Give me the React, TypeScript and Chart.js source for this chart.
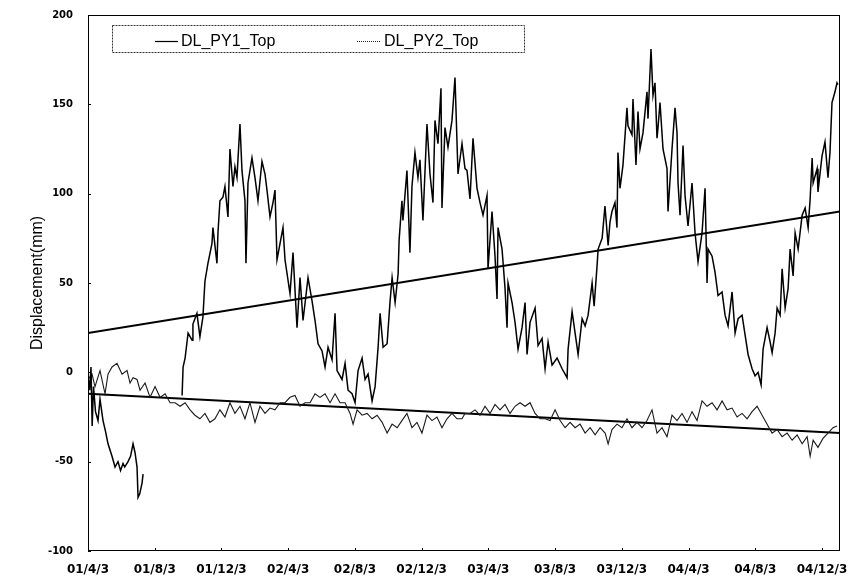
import React, { useEffect, useRef } from 'react';
import { Chart, registerables } from 'chart.js';

Chart.register(...registerables);

// x values: months elapsed since 2001/4/3
const xTickMonths = [0, 4, 8, 12, 16, 20, 24, 28, 32, 36, 40, 44];
const xTickLabels = ['01/4/3', '01/8/3', '01/12/3', '02/4/3', '02/8/3', '02/12/3', '03/4/3', '03/8/3', '03/12/3', '04/4/3', '04/8/3', '04/12/3'];
const xMax = 45.08;
const yTicks = [-100, -50, 0, 50, 100, 150, 200];
const seriesNames = ['DL_PY1_Top', 'DL_PY2_Top'];

const py1Months = [
  0, 0.1, 0.18, 0.25, 0.33, 0.45, 0.6, 0.72, 0.9, 1.05, 1.2, 1.44, 1.62, 1.8, 1.95, 2.1, 2.2, 2.4, 2.55, 2.7, 2.82, 2.94, 3.0, 3.1, 3.24, 3.3,
  4.5,
  5.64, 5.70, 5.82, 6.00, 6.24, 6.29, 6.53, 6.71, 6.89, 7.01, 7.19, 7.43, 7.49, 7.73, 7.79, 7.91, 8.09, 8.21, 8.39, 8.51, 8.69, 8.81, 8.93,
  9.11, 9.23, 9.41, 9.47, 9.59, 9.83, 10.01, 10.19, 10.43, 10.61, 10.73, 10.91, 11.09, 11.21, 11.33, 11.51, 11.69, 11.81, 12.11, 12.29,
  12.53, 12.71, 12.89, 13.19, 13.43, 13.61, 13.79, 14.03, 14.21, 14.39, 14.63, 14.81, 14.93, 15.23, 15.41, 15.59, 15.83, 16.01, 16.19,
  16.43, 16.61, 16.79, 17.03, 17.21, 17.39, 17.51, 17.69, 17.93, 18.11, 18.23, 18.41, 18.59, 18.65, 18.82, 18.88, 19.12, 19.30, 19.42,
  19.60, 19.78, 19.90, 20.08, 20.32, 20.50, 20.68, 20.80, 20.98, 21.16, 21.22, 21.40, 21.58, 21.82, 22.00, 22.18, 22.42, 22.60, 22.72,
  22.90, 23.08, 23.32, 23.50, 23.68, 23.92, 23.98, 24.22, 24.40, 24.52, 24.58, 24.82, 25.00, 25.12, 25.18, 25.42, 25.60, 25.78, 26.02,
  26.20, 26.32, 26.50, 26.80, 26.98, 27.22, 27.40, 27.58, 27.82, 28.12, 28.42, 28.72, 28.78, 29.02, 29.20, 29.38, 29.62, 29.80, 29.98,
  30.22, 30.34, 30.52, 30.58, 30.82, 30.99, 31.18, 31.29, 31.41, 31.59, 31.71, 31.77, 31.89, 32.07, 32.31, 32.37, 32.61, 32.67, 32.85,
  32.97, 33.09, 33.27, 33.51, 33.57, 33.75, 33.87, 33.99, 34.11, 34.17, 34.29, 34.47, 34.71, 34.77, 35.01, 35.19, 35.31, 35.37, 35.49,
  35.67, 35.79, 35.97, 36.21, 36.39, 36.57, 36.81, 36.99, 37.11, 37.17, 37.41, 37.59, 37.77, 38.01, 38.19, 38.37, 38.61, 38.79, 38.97,
  39.21, 39.39, 39.57, 39.81, 39.99, 40.17, 40.35, 40.47, 40.71, 40.89, 41.01, 41.19, 41.31, 41.49, 41.61, 41.79, 41.97, 42.09, 42.27,
  42.39, 42.57, 42.81, 42.99, 43.17, 43.29, 43.41, 43.47, 43.71, 43.76, 44.00, 44.18, 44.36, 44.48, 44.60, 44.78, 44.90, 44.96,
];
const py1Values = [
  -2, -10, 3, -30, -8, -22, -27, -15, -27, -33, -40, -47, -53, -50, -55, -51, -53, -50, -47, -40, -45, -53, -70, -68, -62, -57,
  null,
  -13, 3, 8, 22, 18, 27, 33, 20, 31, 51, 61, 72, 81, 61, 78, 96, 98, 104, 87, 125, 104, 115, 109,
  139, 113, 96, 61, 106, 120, 109, 96, 118, 111, 102, 87, 95, 102, 63, 72, 81, 63, 44, 67,
  25, 53, 29, 53, 40, 29, 16, 12, 3, 14, 7, 33, 1, -4, 5, -10, -12, -17, 1,
  8, -4, -1, -16, -8, 14, 33, 14, 16, 40, 53, 39, 55, 74, 96, 85, 113, 67, 104,
  123, 109, 119, 85, 139, 111, 95, 141, 128, 159, 92, 137, 126, 141, 165, 111, 128, 114, 113,
  97, 131, 103, 95, 88, 99, 58, 90, 65, 41, 81, 69, 47, 25, 50, 39, 28, 13, 25,
  39, 10, 28, 36, 15, 19, 2, 17, 4, 8, 2, -3, 13, 34, 22, 10, 30, 26, 32,
  50, 37, 60, 69, 75, 93, 71, 84, 90, 95, 81, 123, 103, 116, 148, 138, 133, 153, 116,
  146, 125, 134, 157, 142, 181, 155, 162, 131, 137, 151, 125, 114, 90, 125, 148, 134, 106, 88,
  127, 99, 82, 106, 78, 62, 78, 103, 50, 69, 65, 56, 43, 45, 32, 26, 45, 22, 30,
  32, 21, 10, 2, -2, 0, -7, 13, 25, 17, 11, 22, 36, 32, 58, 36, 47, 69, 54,
  78, 69, 88, 92, 81, 97, 120, 106, 114, 101, 121, 129, 109, 123, 151, 157, 162, 161,
];

const py2Months = [
  0, 0.24, 0.42, 0.72, 1.02, 1.20, 1.44, 1.74, 2.04, 2.34, 2.52, 2.70, 2.94, 3.12, 3.42, 3.72, 4.02, 4.32, 4.62, 4.92,
  5.22, 5.52, 5.82, 6.12, 6.41, 6.71, 7.01, 7.31, 7.61, 7.91, 8.21, 8.51, 8.81, 9.11, 9.41, 9.71, 10.01, 10.31, 10.61, 10.91,
  11.21, 11.51, 11.81, 12.11, 12.41, 12.71, 13.01, 13.31, 13.61, 13.91, 14.21, 14.51, 14.81, 15.11, 15.41, 15.71, 15.89, 16.13, 16.43, 16.73,
  17.03, 17.33, 17.63, 17.93, 18.23, 18.53, 18.82, 19.12, 19.42, 19.72, 20.02, 20.32, 20.62, 20.92, 21.22, 21.52, 21.82, 22.12, 22.42, 22.60,
  22.90, 23.20, 23.50, 23.80, 24.10, 24.40, 24.70, 25.00, 25.30, 25.60, 25.90, 26.20, 26.50, 26.80, 27.10, 27.40, 27.70, 28.00, 28.30, 28.60,
  28.90, 29.20, 29.50, 29.80, 30.10, 30.40, 30.70, 31.00, 31.18, 31.41, 31.71, 32.01, 32.31, 32.61, 32.91, 33.21, 33.51, 33.81, 34.11, 34.41,
  34.71, 35.01, 35.31, 35.61, 35.91, 36.21, 36.51, 36.81, 37.11, 37.41, 37.71, 38.01, 38.31, 38.61, 38.91, 39.21, 39.51, 39.81, 40.11, 40.41,
  40.71, 41.01, 41.31, 41.61, 41.91, 42.21, 42.51, 42.81, 43.11, 43.29, 43.47, 43.76, 44.06, 44.36, 44.66, 44.90,
];
const py2Values = [
  -4, -1, -8, 1, -12, -1, 3, 5, -1, 1, -6, -3, -4, -10, -6, -14, -8, -14, -12, -17,
  -17, -19, -17, -21, -24, -26, -23, -28, -26, -21, -25, -17, -23, -19, -26, -17, -28, -19, -23, -20,
  -21, -17, -17, -14, -13, -19, -17, -17, -12, -14, -12, -17, -12, -17, -17, -23, -29, -21, -24, -23,
  -26, -24, -28, -34, -29, -31, -27, -23, -31, -28, -34, -24, -27, -25, -31, -26, -23, -26, -26, -23,
  -23, -21, -24, -19, -23, -18, -21, -18, -23, -19, -17, -19, -17, -23, -26, -26, -27, -21, -27, -31,
  -28, -31, -29, -34, -31, -35, -31, -34, -40, -32, -29, -31, -26, -31, -28, -31, -27, -21, -34, -31,
  -36, -24, -27, -23, -28, -22, -27, -16, -19, -17, -21, -16, -21, -20, -25, -23, -26, -22, -19, -24,
  -29, -34, -32, -36, -34, -38, -35, -40, -36, -47, -38, -42, -37, -34, -31, -30,
];

const trendMonths = [0, 45.08];
const py1Trend = [22, 90];
const py2Trend = [-12, -34];

const toPoints = (xs: number[], ys: (number | null)[]) => xs.map((x, i) => ({ x, y: ys[i] }));

const framePlugin = {
  id: 'frameAndLegend',
  afterDraw(chart: any) {
    const { ctx, chartArea: a, scales } = chart;
    ctx.save();
    ctx.strokeStyle = '#000';
    ctx.lineWidth = 1;
    ctx.setLineDash([]);
    ctx.strokeRect(a.left + 0.5, a.top + 0.5, a.right - a.left - 1, a.bottom - a.top - 1);
    ctx.beginPath();
    xTickMonths.forEach((m) => {
      const x = Math.round(scales.x.getPixelForValue(m)) + 0.5;
      ctx.moveTo(x, a.bottom);
      ctx.lineTo(x, a.bottom - 3);
    });
    yTicks.forEach((v) => {
      const y = Math.round(scales.y.getPixelForValue(v)) + 0.5;
      ctx.moveTo(a.left, y);
      ctx.lineTo(a.left + 3, y);
    });
    ctx.stroke();

    // legend box
    const lx = a.left + 24;
    const ly = a.top + 10;
    const lw = 412;
    const lh = 27;
    ctx.fillStyle = '#fff';
    ctx.fillRect(lx, ly, lw, lh);
    ctx.setLineDash([2, 1]);
    ctx.strokeStyle = '#333';
    ctx.strokeRect(lx + 0.5, ly + 0.5, lw, lh);
    const cy = ly + lh / 2 + 3;
    ctx.font = '16px "Liberation Sans", Arial, sans-serif';
    ctx.textBaseline = 'middle';
    ctx.textAlign = 'left';
    ctx.fillStyle = '#000';
    // item 1
    ctx.setLineDash([]);
    ctx.strokeStyle = '#000';
    ctx.lineWidth = 1.2;
    ctx.beginPath();
    ctx.moveTo(lx + 43, cy);
    ctx.lineTo(lx + 66, cy);
    ctx.stroke();
    ctx.fillText(seriesNames[0], lx + 69, cy);
    // item 2
    ctx.setLineDash([1, 1]);
    ctx.strokeStyle = '#222';
    ctx.beginPath();
    ctx.moveTo(lx + 245, cy);
    ctx.lineTo(lx + 268, cy);
    ctx.stroke();
    ctx.fillText(seriesNames[1], lx + 272, cy);
    ctx.restore();
  },
};

export default function App() {
  const canvasRef = useRef<HTMLCanvasElement | null>(null);

  useEffect(() => {
    if (!canvasRef.current) return;
    const chart = new Chart(canvasRef.current, {
      type: 'line',
      data: {
        datasets: [
          {
            label: seriesNames[0],
            data: toPoints(py1Months, py1Values),
            borderColor: '#000',
            borderWidth: 1.5,
            pointRadius: 0,
            spanGaps: false,
            tension: 0,
          },
          {
            label: seriesNames[1],
            data: toPoints(py2Months, py2Values),
            borderColor: '#1a1a1a',
            borderWidth: 1.1,
            pointRadius: 0,
            tension: 0,
          },
          {
            label: 'trend1',
            data: toPoints(trendMonths, py1Trend),
            borderColor: '#000',
            borderWidth: 2,
            pointRadius: 0,
          },
          {
            label: 'trend2',
            data: toPoints(trendMonths, py2Trend),
            borderColor: '#000',
            borderWidth: 2,
            pointRadius: 0,
          },
        ],
      },
      options: {
        animation: false,
        responsive: true,
        maintainAspectRatio: false,
        layout: { padding: { left: 0, right: 11, top: 15, bottom: 0 } },
        plugins: {
          legend: { display: false },
          tooltip: { enabled: false },
        },
        scales: {
          x: {
            type: 'linear',
            min: 0,
            max: xMax,
            afterBuildTicks: (scale: any) => {
              scale.ticks = xTickMonths.map((v) => ({ value: v }));
            },
            afterFit: (scale: any) => {
              scale.height = 27;
              scale.paddingLeft = 0;
              scale.paddingRight = 0;
            },
            ticks: {
              autoSkip: false,
              maxRotation: 0,
              minRotation: 0,
              padding: 12,
              color: '#000',
              font: { family: '"DejaVu Sans", sans-serif', size: 12, weight: 'bold' },
              callback: (value: any, index: number) => xTickLabels[index],
            },
            grid: { display: false, drawTicks: false },
            border: { display: false },
          },
          y: {
            type: 'linear',
            min: -100,
            max: 200,
            afterBuildTicks: (scale: any) => {
              scale.ticks = yTicks.map((v) => ({ value: v }));
            },
            afterFit: (scale: any) => {
              scale.width = 88;
              scale.paddingTop = 0;
              scale.paddingBottom = 0;
            },
            ticks: {
              padding: 15,
              color: '#000',
              font: { family: '"DejaVu Sans", sans-serif', size: 10, weight: 'bold' },
              callback: (value: any) => String(value),
            },
            grid: { display: false, drawTicks: false },
            border: { display: false },
            title: {
              display: true,
              text: 'Displacement(mm)',
              color: '#000',
              font: { family: '"Liberation Sans", Arial, sans-serif', size: 16, weight: 'normal' },
              padding: { top: 28, bottom: 0 },
            },
          },
        },
      },
      plugins: [framePlugin],
    } as any);
    return () => chart.destroy();
  }, []);

  return (
    <div style={{ position: 'absolute', left: 0, top: 0, width: 851, height: 578, background: '#fff' }}>
      <canvas ref={canvasRef} style={{ width: '100%', height: '100%' }} />
    </div>
  );
}
